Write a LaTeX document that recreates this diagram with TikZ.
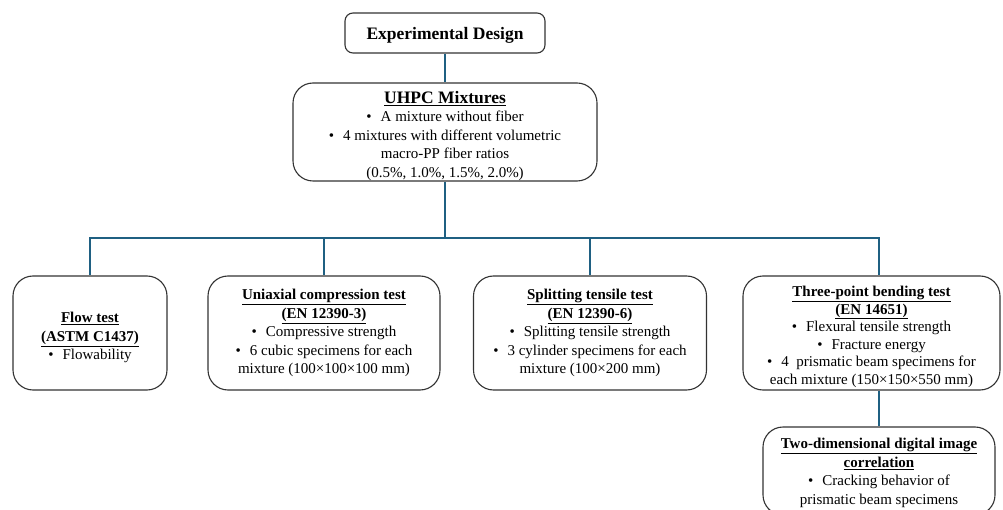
\documentclass[tikz,border=0pt]{standalone}
\usepackage{fontspec}
\setmainfont{Liberation Serif}
\usetikzlibrary{calc}

\definecolor{linkblue}{RGB}{31,96,130}
\tikzset{
  stage/.style={draw=black!80, line width=1.1pt, rounded corners=20pt, fill=white,
    align=center, inner sep=0pt, font=\fontsize{15}{18.5}\selectfont},
  link/.style={draw=linkblue, line width=1.8pt},
}
\newcommand{\boxhead}[1]{\underline{\textbf{#1}}}
\newcommand{\bul}{\textbullet\hspace{0.6em}}
\newcommand{\lift}[1]{\rule{0pt}{#1}}

\begin{document}
\begin{tikzpicture}[x=1pt,y=-1pt]
  \useasboundingbox (0,0) rectangle (1003,510);

  % Top levels
  \node[stage, rounded corners=8pt, minimum width=200pt, minimum height=40pt,
    font=\fontsize{17.5}{20}\selectfont\bfseries] (design) at (445,33) {\lift{16pt}Experimental Design};
  \node[stage, minimum width=304pt, minimum height=98pt] (mix) at (445,132)
    {{\fontsize{17.5}{20}\selectfont\lift{20pt}\boxhead{UHPC Mixtures}}\\
     \bul A mixture without fiber\\
     \bul 4 mixtures with different volumetric\\
     macro-PP fiber ratios\\
     (0.5\%, 1.0\%, 1.5\%, 2.0\%)};

  % Tests
  \node[stage, minimum width=154pt, minimum height=114pt] (flow) at (90,333)
    {\lift{20pt}\boxhead{Flow test}\\ \boxhead{(ASTM C1437)}\\ \bul Flowability};
  \node[stage, minimum width=232pt, minimum height=114pt] (comp) at (324,333)
    {\boxhead{Uniaxial compression test}\\ \boxhead{(EN 12390-3)}\\
     \bul Compressive strength\\
     \bul 6 cubic specimens for each\\
     mixture (100×100×100 mm)};
  \node[stage, minimum width=233pt, minimum height=114pt] (split) at (590,333)
    {\boxhead{Splitting tensile test}\\ \boxhead{(EN 12390-6)}\\
     \bul Splitting tensile strength\\
     \bul 3 cylinder specimens for each\\
     mixture (100×200 mm)};
  \node[stage, minimum width=257pt, minimum height=114pt,
    font=\fontsize{15}{17.6}\selectfont] (bend) at (871.5,333)
    {\lift{18pt}\boxhead{Three-point bending test}\\ \boxhead{(EN 14651)}\\
     \bul Flexural tensile strength\\
     \bul Fracture energy\\
     \bul 4\ \ prismatic beam specimens for\\
     each mixture (150×150×550 mm)};

  % DIC
  \node[stage, minimum width=232pt, minimum height=88pt] (dic) at (879,471)
    {\lift{14pt}\boxhead{Two-dimensional digital image}\\ \boxhead{correlation}\\
     \bul Cracking behavior of\\
     prismatic beam specimens};

  % Connectors
  \coordinate (bus) at (445,238);
  \draw[link] (design) -- (mix);
  \draw[link] (mix) -- (bus);
  \foreach \t in {flow,comp,split}
    \draw[link] (bus) -| (\t);
  \draw[link] (bus) -| (bend.north -| dic.north);
  \draw[link] (bend.south -| dic.north) -- (dic);
\end{tikzpicture}
\end{document}
